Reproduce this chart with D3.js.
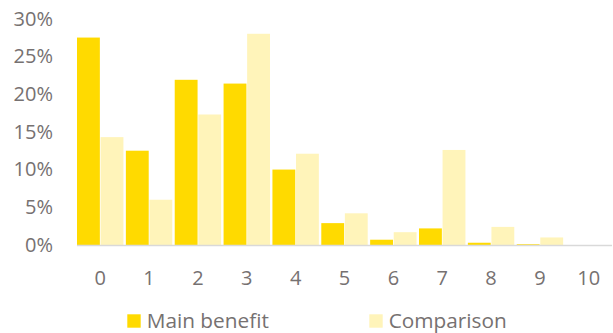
<!DOCTYPE html>
<html>
<head>
<meta charset="utf-8">
<script src="https://cdn.jsdelivr.net/npm/d3@7"></script>
<style>
  html, body { margin: 0; padding: 0; background: #fff; }
  svg { display: block; }
  text { font-family: "Open Sans", sans-serif; fill: #767171; }
</style>
</head>
<body>
<svg id="chart" width="613" height="333"></svg>
<script>
const categories = ["0","1","2","3","4","5","6","7","8","9","10"];
const mainBenefit = [0.275, 0.125, 0.219, 0.214, 0.100, 0.029, 0.007, 0.022, 0.003, 0.001, 0.0];
const comparison  = [0.143, 0.060, 0.173, 0.280, 0.121, 0.042, 0.017, 0.126, 0.024, 0.010, 0.0];
const yTicks = [0, 0.05, 0.10, 0.15, 0.20, 0.25, 0.30];
const seriesNames = ["Main benefit", "Comparison"];
const seriesColors = ["#FFDA00", "#FFF4BA"];

const svg = d3.select("#chart");
const plotLeft = 77, plotRight = 612, plotTop = 18.7, plotBottom = 245;

const x = d3.scaleBand().domain(categories).range([plotLeft, plotRight]).paddingInner(0.05).paddingOuter(0);
const xs = d3.scaleBand().domain(seriesNames).range([0, x.bandwidth()]).paddingInner(0.03);
const y = d3.scaleLinear().domain([0, 0.30]).range([plotBottom, plotTop]);

const data = categories.map((c, i) => ({ c, vals: [mainBenefit[i], comparison[i]] }));

const groups = svg.append("g").selectAll("g").data(data).join("g")
  .attr("transform", d => `translate(${x(d.c)},0)`);
groups.selectAll("rect").data(d => d.vals.map((v, k) => ({ v, k })))
  .join("rect")
  .attr("x", d => xs(seriesNames[d.k]))
  .attr("width", xs.bandwidth())
  .attr("y", d => y(d.v))
  .attr("height", d => y(0) - y(d.v))
  .attr("fill", d => seriesColors[d.k]);

// baseline
svg.append("line").attr("x1", plotLeft).attr("x2", plotRight)
  .attr("y1", y(0) + 0.5).attr("y2", y(0) + 0.5)
  .attr("stroke", "#D9D9D9").attr("stroke-width", 1.5);

// y axis labels
const yAxis = d3.axisLeft(y).tickValues(yTicks).tickFormat(d3.format(".0%")).tickSize(0).tickPadding(0);
const yg = svg.append("g").attr("transform", `translate(53,0)`).call(yAxis);
yg.select(".domain").remove();
yg.selectAll("text").style("font-size", "20px").attr("fill", "#767171")
  .style("font-family", "'Open Sans', sans-serif");

// x axis labels
const xAxis = d3.axisBottom(x).tickSize(0).tickPadding(0);
const xg = svg.append("g").attr("transform", `translate(0,${plotBottom})`).call(xAxis);
xg.select(".domain").remove();
xg.selectAll("text").attr("dy", null).attr("y", 32).attr("dominant-baseline", "central")
  .style("font-size", "20px").attr("fill", "#767171")
  .style("font-family", "'Open Sans', sans-serif");

// legend
const legendX = [127.3, 369.3];
const legend = svg.append("g").selectAll("g").data(seriesNames).join("g")
  .attr("transform", (d, i) => `translate(${legendX[i]},314.3)`);
legend.append("rect").attr("width", 13.4).attr("height", 13.4)
  .attr("fill", (d, i) => seriesColors[i]);
legend.append("text").attr("x", 19.4).attr("y", 13.6)
  .style("font-size", "20.8px").text(d => d);
</script>
</body>
</html>
